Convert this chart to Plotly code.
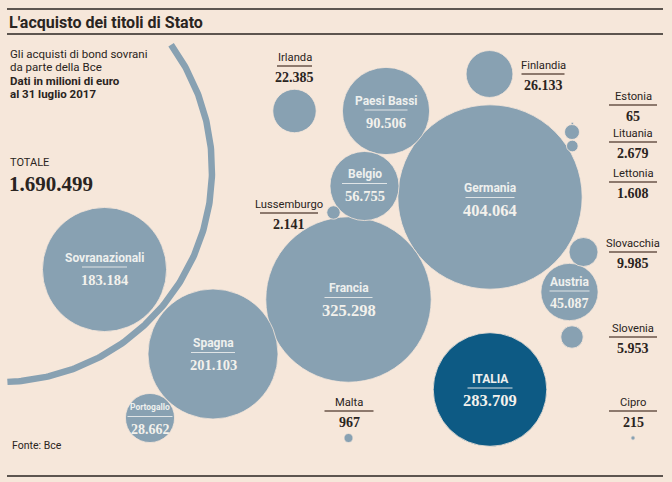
import numpy as np
import plotly.graph_objects as go

# ---------------- data ----------------
countries = ["Germania", "Francia", "ITALIA", "Spagna", "Sovranazionali",
             "Paesi Bassi", "Belgio", "Austria", "Finlandia", "Portogallo",
             "Irlanda", "Slovacchia", "Slovenia", "Lituania", "Lussemburgo",
             "Lettonia", "Malta", "Cipro", "Estonia"]
values = [404064, 325298, 283709, 201103, 183184,
          90506, 56755, 45087, 26133, 28662,
          22385, 9985, 5953, 2679, 2141,
          1608, 967, 215, 65]
total_label = "TOTALE"
total_value = 1690499
title = "L'acquisto dei titoli di Stato"
subtitle = ["Gli acquisti di bond sovrani", "da parte della Bce"]
subtitle_bold = ["Dati in milioni di euro", "al 31 luglio 2017"]
source = "Fonte: Bce"

# ---------------- layout (positions / styles) ----------------
W, H = 672, 482
BG = "#f6e7da"
FILL = "#88a1b2"
HILITE = "#0d5a84"
DARK = "#2a2421"
SANS = "Liberation Sans Narrow, Roboto, Arial"
SERIF = "Liberation Serif, DejaVu Serif, serif"
K = 0.145  # px of radius per sqrt(unit)

# bubble centres (px)
centre = {
    "Germania": (490, 197), "Francia": (348.5, 299.5), "ITALIA": (490, 389.5),
    "Spagna": (213, 354), "Sovranazionali": (104.5, 269.5),
    "Paesi Bassi": (386, 111), "Belgio": (364.5, 186), "Austria": (569.5, 292),
    "Finlandia": (489.5, 74), "Portogallo": (150, 418), "Irlanda": (294.5, 111),
    "Slovacchia": (583.5, 252), "Slovenia": (572, 337), "Lituania": (572, 132),
    "Lussemburgo": (333.5, 212.5), "Lettonia": (572.3, 146), "Malta": (348.5, 438),
    "Cipro": (633, 438), "Estonia": (572.3, 123.5),
}
# the highlighted bubble is drawn at the reference's (smaller) scale
radius_scale = {"ITALIA": 0.735, "Austria": 0.93}

# inside labels: name y, name size, value size, half line width
inside = {
    "Germania": (188, 12, 16.5, 24.5), "Francia": (288, 12, 16.5, 24),
    "ITALIA": (378.5, 12, 16.5, 22.5), "Spagna": (343, 12, 14.5, 22),
    "Sovranazionali": (257.5, 12, 14.5, 22.5), "Paesi Bassi": (100.5, 12, 14.5, 21.5),
    "Belgio": (174, 12, 14.5, 22.5), "Austria": (281.5, 12, 14, 20),
    "Portogallo": (407, 8.5, 14, 22.5),
}
# outside labels: x, name y, half line width
outside = {
    "Irlanda": (294.5, 57, 17.5), "Finlandia": (543, 65, 21.5),
    "Estonia": (633, 96, 24), "Lituania": (633, 133, 24), "Lettonia": (633, 173, 24),
    "Lussemburgo": (289, 204, 29), "Slovacchia": (633, 243, 24),
    "Slovenia": (633, 328, 24), "Malta": (349, 402, 24.5), "Cipro": (633, 402, 24),
}


def fmt(v):
    return f"{v:,}".replace(",", ".")


fig = go.Figure()

# big "total" arc
arc_c, arc_r = (0, 170), 212
th = np.linspace(np.radians(-36.2), np.radians(88.0), 200)
fig.add_trace(go.Scatter(x=arc_c[0] + arc_r * np.cos(th), y=arc_c[1] + arc_r * np.sin(th),
                         mode="lines", line=dict(color=FILL, width=6.5),
                         hoverinfo="skip", showlegend=False))

shapes = []
for name, v in zip(countries, values):
    cx, cy = centre[name]
    r = K * np.sqrt(v) * radius_scale.get(name, 1.0)
    col = HILITE if name == "ITALIA" else FILL
    shapes.append(dict(type="circle", xref="x", yref="y", x0=cx - r, x1=cx + r,
                       y0=cy - r, y1=cy + r, fillcolor=col,
                       line=dict(color=BG, width=0.8), layer="above"))

annotations = []


def txt(x, y, t, size, color, family, bold=False, xanchor="center"):
    if bold:
        t = "<b>" + t + "</b>"
    annotations.append(dict(x=x, y=y, xref="x", yref="y", text=t, showarrow=False,
                            xanchor=xanchor, yanchor="middle",
                            font=dict(size=size, color=color, family=family)))


for name, v in zip(countries, values):
    if name in inside:
        ny, ns, vs, hw = inside[name]
        cx, _ = centre[name]
        txt(cx, ny, name, ns, "#eef0ee", SANS, bold=True)
        shapes.append(dict(type="line", xref="x", yref="y", x0=cx - hw, x1=cx + hw,
                           y0=ny + 9.5, y1=ny + 9.5, line=dict(color="#dfe4e6", width=1),
                           layer="above"))
        txt(cx, ny + 22, fmt(v), vs, "#f3f1ec", SERIF, bold=True)
    else:
        x, ny, hw = outside[name]
        txt(x, ny, name, 11.2, DARK, SANS)
        shapes.append(dict(type="line", xref="x", yref="y", x0=x - hw, x1=x + hw,
                           y0=ny + 9, y1=ny + 9, line=dict(color="#6a5548", width=1.5)))
        txt(x, ny + 20.5, fmt(v), 14, DARK, SERIF, bold=True)

# header / footer
for yy in (9, 34, 476):
    shapes.append(dict(type="line", xref="x", yref="y", x0=7, x1=663, y0=yy, y1=yy,
                       line=dict(color=DARK, width=1.6)))
txt(7, 22, title, 16, DARK, SANS, bold=True, xanchor="left")
txt(8, 53.5, subtitle[0], 11.5, DARK, SANS, xanchor="left")
txt(8, 67, subtitle[1], 11.5, DARK, SANS, xanchor="left")
txt(8, 80.5, subtitle_bold[0], 11.5, DARK, SANS, bold=True, xanchor="left")
txt(8, 94, subtitle_bold[1], 11.5, DARK, SANS, bold=True, xanchor="left")
txt(8, 162, total_label, 11, DARK, SANS, xanchor="left")
txt(7, 184, fmt(total_value), 21, DARK, SERIF, bold=True, xanchor="left")
txt(10, 445, source, 10.5, DARK, SANS, xanchor="left")

fig.update_layout(
    width=W, height=H, margin=dict(l=0, r=0, t=0, b=0),
    paper_bgcolor=BG, plot_bgcolor=BG,
    xaxis=dict(range=[0, W], visible=False, fixedrange=True),
    yaxis=dict(range=[H, 0], visible=False, fixedrange=True),
    shapes=shapes, annotations=annotations, showlegend=False,
)
fig.write_html("out.html")
